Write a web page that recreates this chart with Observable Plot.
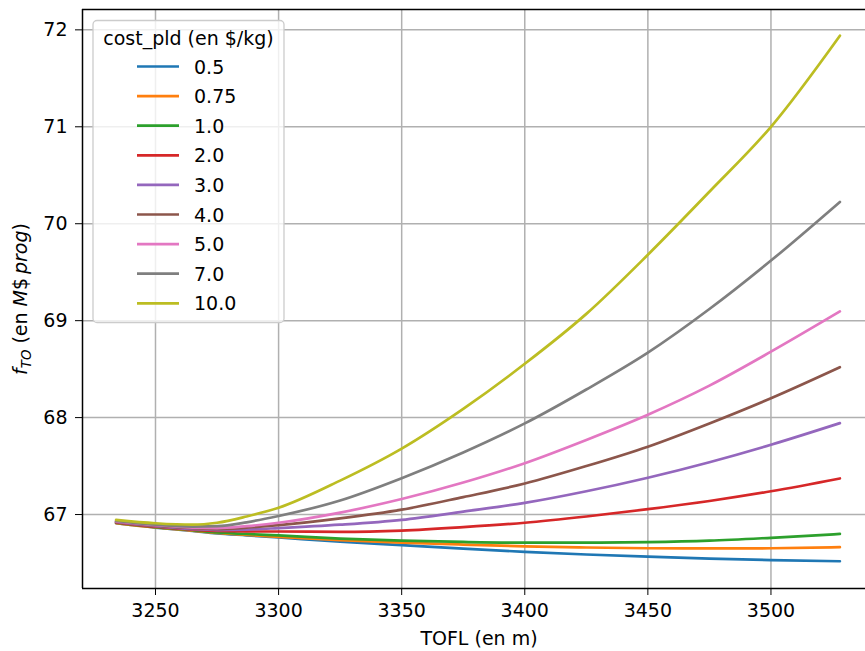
<!DOCTYPE html>
<html><head><meta charset="utf-8">
<script src="https://cdn.jsdelivr.net/npm/d3@7"></script>
<script src="https://cdn.jsdelivr.net/npm/@observablehq/plot@0.6"></script>
<style>
html,body{margin:0;padding:0;background:#fff;overflow:hidden}
#chart svg{display:block}
</style></head><body><div id="chart"></div>
<script>
// TOFL sample positions (m)
const tofl = [3234, 3250, 3265, 3275, 3287, 3300, 3325, 3350, 3375, 3400, 3425, 3450, 3475, 3500, 3528];
// legend categories: cost_pld (en $/kg)
const costs = ["0.5", "0.75", "1.0", "2.0", "3.0", "4.0", "5.0", "7.0", "10.0"];
// f_TO (en M$ prog) for each cost_pld
const f_0_5  = [66.910, 66.865, 66.830, 66.805, 66.785, 66.763, 66.720, 66.685, 66.648, 66.615, 66.588, 66.565, 66.545, 66.530, 66.518];
const f_0_75 = [66.912, 66.867, 66.835, 66.810, 66.790, 66.770, 66.737, 66.710, 66.690, 66.672, 66.660, 66.652, 66.650, 66.652, 66.663];
const f_1_0  = [66.915, 66.870, 66.840, 66.815, 66.800, 66.785, 66.752, 66.730, 66.717, 66.710, 66.710, 66.715, 66.730, 66.760, 66.800];
const f_2_0  = [66.920, 66.875, 66.845, 66.830, 66.825, 66.825, 66.822, 66.835, 66.870, 66.915, 66.980, 67.055, 67.140, 67.240, 67.372];
const f_3_0  = [66.925, 66.880, 66.850, 66.840, 66.845, 66.860, 66.895, 66.945, 67.030, 67.120, 67.240, 67.380, 67.540, 67.720, 67.943];
const f_4_0  = [66.930, 66.885, 66.860, 66.850, 66.865, 66.890, 66.960, 67.050, 67.180, 67.320, 67.500, 67.700, 67.940, 68.200, 68.520];
const f_5_0  = [66.930, 66.890, 66.865, 66.860, 66.880, 66.915, 67.020, 67.160, 67.330, 67.530, 67.770, 68.030, 68.330, 68.680, 69.095];
const f_7_0  = [66.935, 66.895, 66.875, 66.880, 66.920, 66.985, 67.145, 67.375, 67.640, 67.940, 68.290, 68.670, 69.120, 69.620, 70.225];
const f_10_0 = [66.945, 66.910, 66.895, 66.915, 66.980, 67.070, 67.350, 67.680, 68.090, 68.555, 69.070, 69.680, 70.330, 71.000, 71.940];
const series = [f_0_5, f_0_75, f_1_0, f_2_0, f_3_0, f_4_0, f_5_0, f_7_0, f_10_0];
const colors = ["#1f77b4", "#ff7f0e", "#2ca02c", "#d62728", "#9467bd", "#8c564b", "#e377c2", "#7f7f7f", "#bcbd22"];
// axis ticks
const xTicks = [3250, 3300, 3350, 3400, 3450, 3500];
const yTicks = [67, 68, 69, 70, 71, 72];
const xDomain = [3220.35, 3538.4];
const yDomain = [66.237, 72.21];

const rows = [];
series.forEach((vals, i) => vals.forEach((v, j) => rows.push({tofl: tofl[j], f: v, cost: costs[i]})));

const FONT = "DejaVu Sans";
const FS = 19;

const svg = Plot.plot({
  width: 865, height: 651,
  marginLeft: 82, marginRight: 0, marginTop: 9, marginBottom: 63,
  style: {fontFamily: FONT, fontSize: FS + "px", color: "black", background: "white", overflow: "visible"},
  x: {domain: xDomain, ticks: xTicks, tickFormat: d => String(d), label: null, tickSize: 7, tickPadding: 8},
  y: {domain: yDomain, ticks: yTicks, tickFormat: d => String(d), label: null, tickSize: 7, tickPadding: 8},
  color: {domain: costs, range: colors},
  marks: [
    Plot.ruleX(xTicks, {stroke: "#b0b0b0", strokeWidth: 1.5}),
    Plot.ruleY(yTicks, {stroke: "#b0b0b0", strokeWidth: 1.5}),
    Plot.line(rows, {x: "tofl", y: "f", z: "cost", stroke: "cost", curve: "monotone-x", strokeWidth: 2.7}),
    Plot.ruleX([xDomain[0]], {stroke: "black", strokeWidth: 1.5}),
    Plot.ruleY([yDomain[0]], {stroke: "black", strokeWidth: 1.5}),
    Plot.ruleY([yDomain[1]], {stroke: "black", strokeWidth: 1.5})
  ]
});

const s = d3.select(svg);
// axis labels
s.append("text").attr("x", 479).attr("y", 645).attr("text-anchor", "middle")
  .attr("font-family", FONT).attr("font-size", FS).attr("fill", "black").text("TOFL (en m)");
const yl = s.append("text").attr("transform", "translate(27,299) rotate(-90)").attr("text-anchor", "middle")
  .attr("font-family", FONT).attr("font-size", FS).attr("fill", "black");
yl.append("tspan").attr("font-style", "italic").text("f");
yl.append("tspan").attr("font-style", "italic").attr("font-size", FS * 0.7).attr("dy", 4).text("TO");
yl.append("tspan").attr("dy", -4).text(" (en ");
yl.append("tspan").attr("font-style", "italic").text("M");
yl.append("tspan").text("$");
yl.append("tspan").attr("font-style", "italic").text("\u2009prog");
yl.append("tspan").text(")");

// legend
const lg = s.append("g").attr("font-family", FONT).attr("font-size", FS);
lg.append("rect").attr("x", 93).attr("y", 20.5).attr("width", 191).attr("height", 302).attr("rx", 4)
  .attr("fill", "white").attr("fill-opacity", 0.8).attr("stroke", "#cccccc").attr("stroke-width", 1.3);
lg.append("text").attr("x", 188.5).attr("y", 38).attr("text-anchor", "middle").attr("dominant-baseline", "central")
  .attr("fill", "black").text("cost_pld (en $/kg)");
costs.forEach((c, i) => {
  const y = 66.5 + i * 29.6;
  lg.append("line").attr("x1", 137).attr("x2", 179).attr("y1", y).attr("y2", y)
    .attr("stroke", colors[i]).attr("stroke-width", 2.7);
  lg.append("text").attr("x", 194).attr("y", y).attr("text-anchor", "start").attr("dominant-baseline", "central")
    .attr("fill", "black").text(c);
});

document.getElementById("chart").appendChild(svg);
</script>
</body></html>
